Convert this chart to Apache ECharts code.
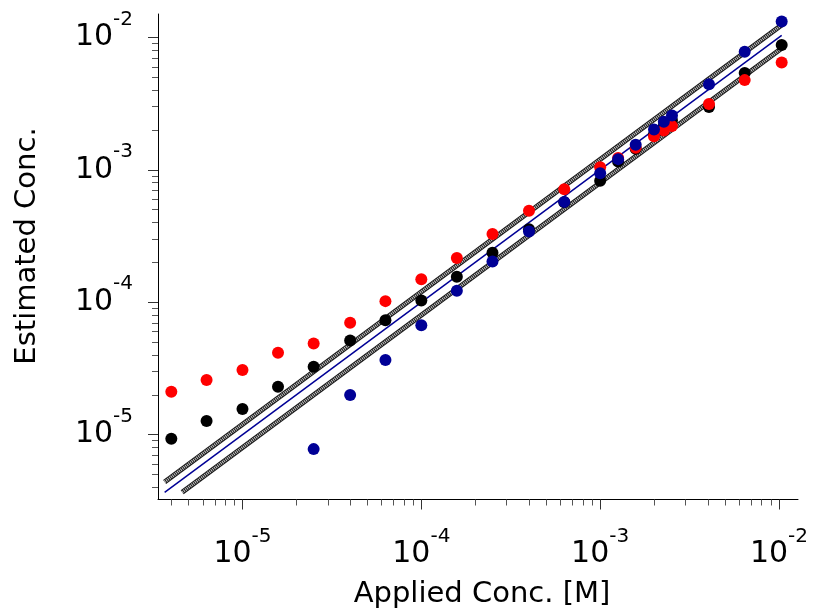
<!DOCTYPE html>
<html>
<head>
<meta charset="utf-8">
<script src="https://cdn.jsdelivr.net/npm/echarts@6/dist/echarts.min.js"></script>
<style>
html,body{margin:0;padding:0;background:#fff;}
#chart{width:813px;height:613px;}
</style>
</head>
<body>
<div id="chart"></div>
<script>
// ---- data ----
const appliedConc = [4e-6, 6.3e-6, 1e-5, 1.58e-5, 2.5e-5, 4e-5, 6.3e-5, 1e-4, 1.58e-4, 2.5e-4, 4e-4, 6.3e-4, 1e-3, 1.26e-3, 1.58e-3, 2e-3, 2.27e-3, 2.52e-3, 4.06e-3, 6.43e-3, 1.035e-2];
const redEstimated = [2.11e-5, 2.59e-5, 3.08e-5, 4.16e-5, 4.89e-5, 7.01e-5, 1.02e-4, 1.49e-4, 2.16e-4, 3.28e-4, 4.92e-4, 7.15e-4, 1.047e-3, 1.23e-3, 1.47e-3, 1.79e-3, 1.98e-3, 2.14e-3, 3.14e-3, 4.76e-3, 6.47e-3];
const blackEstimated = [9.31e-6, 1.27e-5, 1.56e-5, 2.30e-5, 3.26e-5, 5.14e-5, 7.31e-5, 1.03e-4, 1.56e-4, 2.37e-4, 3.56e-4, 5.7e-4, 8.26e-4, 1.156e-3, 1.44e-3, 1.85e-3, 2.15e-3, 2.37e-3, 2.98e-3, 5.38e-3, 8.76e-3];
const blueEstimated = [null, null, null, null, 7.78e-6, 1.99e-5, 3.66e-5, 6.70e-5, 1.22e-4, 2.03e-4, 3.42e-4, 5.73e-4, 9.44e-4, 1.205e-3, 1.55e-3, 2.02e-3, 2.31e-3, 2.57e-3, 4.43e-3, 7.80e-3, 1.32e-2];

const identityX = [3.67e-6, 1.035e-2];
const identityY = [3.67e-6, 1.035e-2];
const upperX = [3.67e-6, 1.035e-2];
const upperY = [4.4e-6, 1.242e-2];
const lowerX = [4.6e-6, 1.035e-2];
const lowerY = [3.68e-6, 8.28e-3];

const majorTicks = [1e-5, 1e-4, 1e-3, 1e-2];
const tickExponents = ['-5', '-4', '-3', '-2'];
const minorMantissas = [2, 3, 4, 5, 6, 7, 8, 9];
const decades = [1e-6, 1e-5, 1e-4, 1e-3, 1e-2];

const xTitle = 'Applied Conc. [M]';
const yTitle = 'Estimated Conc.';

// ---- build ----
const X_MIN = 3.37e-6, X_MAX = 1.277e-2, Y_MIN = 3.24e-6, Y_MAX = 1.503e-2;
const minorTicks = [];
decades.forEach(d => minorMantissas.forEach(m => minorTicks.push(+(m * d).toPrecision(3))));
const minorX = minorTicks.filter(v => v > X_MIN && v < X_MAX);
const minorY = minorTicks.filter(v => v > Y_MIN && v < Y_MAX);

function pairs(xs, ys) { return xs.map((x, i) => [x, ys[i]]).filter(p => p[1] != null); }

const FONT = 'DejaVu Sans';
const rich = {
  b: { fontFamily: FONT, fontSize: 30, lineHeight: 30, color: '#000' },
  s: { fontFamily: FONT, fontSize: 20, lineHeight: 20, color: '#000', padding: [0, 0, 36, 0] }
};
function fmt(v) {
  let best = 0, bd = Infinity;
  majorTicks.forEach((t, i) => { const d = Math.abs(Math.log10(t) - Math.log10(v)); if (d < bd) { bd = d; best = i; } });
  return '{b|10}{s|' + tickExponents[best] + '}';
}

function mkAxis(isX, major) {
  const min = isX ? X_MIN : Y_MIN, max = isX ? X_MAX : Y_MAX;
  const base = {
    type: 'log', logBase: 10, min: min, max: max, gridIndex: 0,
    position: isX ? 'bottom' : 'left',
    splitLine: { show: false }, minorTick: { show: false }, minorSplitLine: { show: false }
  };
  if (major) {
    base.axisLine = { show: true, lineStyle: { color: '#000', width: 1 } };
    base.axisTick = { show: true, inside: false, length: 10, customValues: majorTicks, lineStyle: { color: '#333', width: 1 } };
    base.axisLabel = { show: true, customValues: majorTicks, formatter: fmt, rich: rich, margin: isX ? 40 : 25, hideOverlap: false };
  } else {
    base.axisLine = { show: false };
    base.axisTick = { show: true, inside: false, length: 6, customValues: isX ? minorX : minorY, lineStyle: { color: '#555', width: 1 } };
    base.axisLabel = { show: false };
  }
  return base;
}

const hatchBase = { color: '#1a1a1a', width: 5 };
const hatchTop = { color: '#c8c8c8', width: 3, type: [1, 1] };
function lineSeries(xs, ys, style, z) {
  return { type: 'line', xAxisIndex: 0, yAxisIndex: 0, data: pairs(xs, ys), showSymbol: false, symbol: 'none',
    lineStyle: style, silent: true, animation: false, z: z };
}
function scatterSeries(name, ys, color, z) {
  return { name: name, type: 'scatter', xAxisIndex: 0, yAxisIndex: 0, data: pairs(appliedConc, ys),
    symbol: 'circle', symbolSize: 12, itemStyle: { color: color, opacity: 1 }, animation: false, z: z };
}

const chart = echarts.init(document.getElementById('chart'), null, { renderer: 'canvas' });
chart.setOption({
  backgroundColor: '#fff',
  animation: false,
  grid: { left: 158, top: 14, width: 640, height: 485.5, containLabel: false },
  xAxis: [mkAxis(true, true), mkAxis(true, false)],
  yAxis: [mkAxis(false, true), mkAxis(false, false)],
  series: [
    lineSeries(upperX, upperY, hatchBase, 2),
    lineSeries(upperX, upperY, hatchTop, 3),
    lineSeries(lowerX, lowerY, hatchBase, 2),
    lineSeries(lowerX, lowerY, hatchTop, 3),
    lineSeries(identityX, identityY, { color: '#000096', width: 1.5 }, 4),
    scatterSeries('black', blackEstimated, '#000000', 5),
    scatterSeries('red', redEstimated, '#ff0000', 6),
    scatterSeries('blue', blueEstimated, '#000096', 7)
  ],
  graphic: [
    { type: 'text', x: 482, y: 594, style: { text: xTitle, font: '29px "DejaVu Sans"', fill: '#000', textAlign: 'center', textVerticalAlign: 'middle' } },
    { type: 'text', x: 27, y: 246, rotation: Math.PI / 2, style: { text: yTitle, font: '29px "DejaVu Sans"', fill: '#000', textAlign: 'center', textVerticalAlign: 'middle' } }
  ]
});
</script>
</body>
</html>
